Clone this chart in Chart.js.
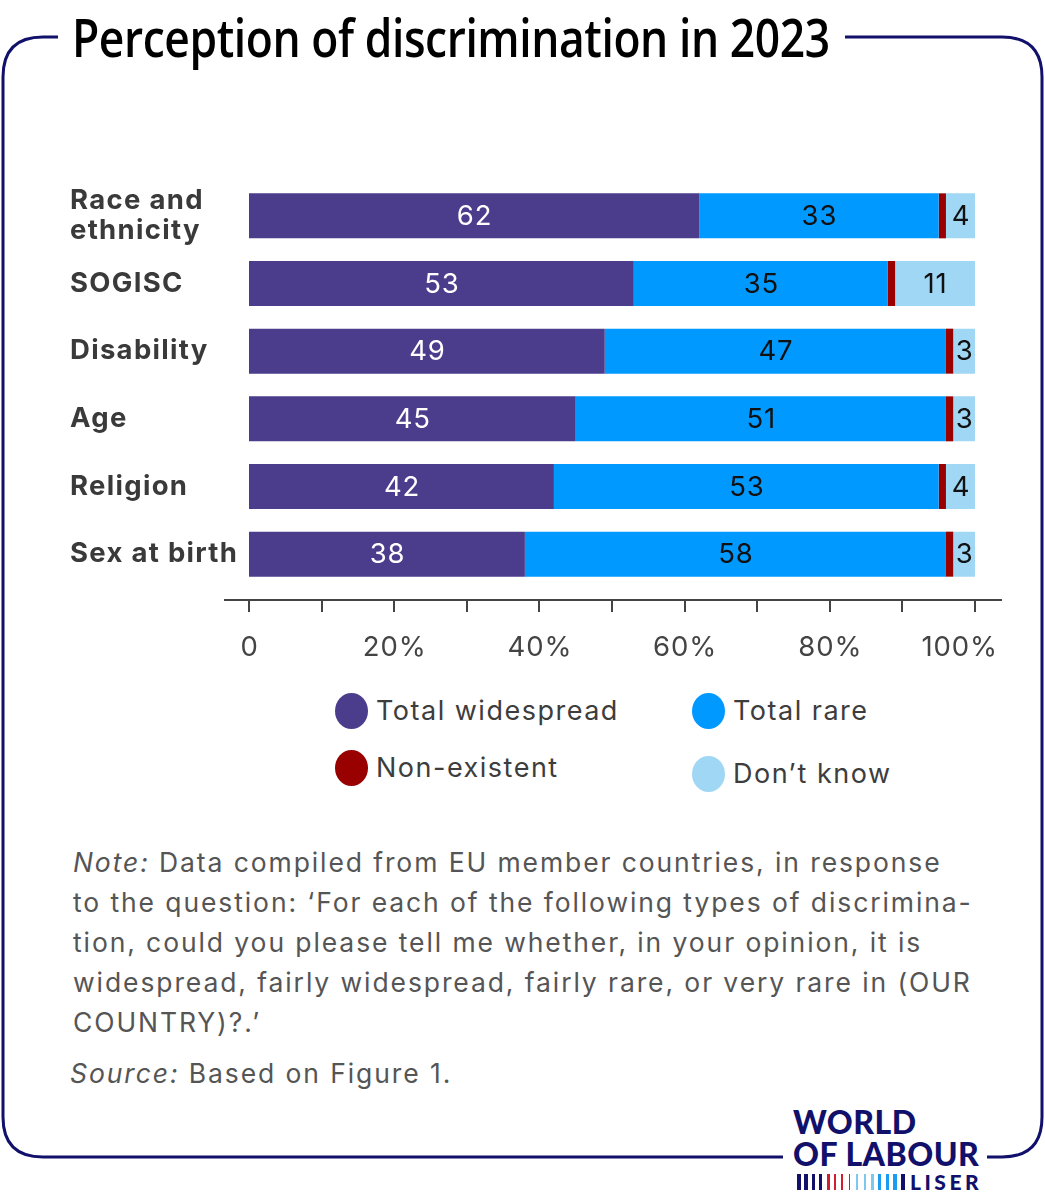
<!DOCTYPE html>
<html>
<head>
<meta charset="utf-8">
<script src="https://cdn.jsdelivr.net/npm/chart.js@4.4.1/dist/chart.umd.min.js"></script>
<style>
  html, body { margin: 0; padding: 0; background: #fff; }
  body { width: 1045px; height: 1197px; position: relative; overflow: hidden; font-family: Inter, "Noto Sans", sans-serif; }
  #frame { position: absolute; left: 0; top: 0; }
  #title { position: absolute; left: 72px; top: 0; height: 74px; line-height: 74px; font-family: "Open Sans", "Noto Sans", sans-serif; font-weight: 600; font-size: 52px; color: #000; white-space: nowrap; transform-origin: left center; letter-spacing: -0.5px; }
  #chartBox { position: absolute; left: 0; top: 0; width: 1045px; height: 680px; }
  .leg { position: absolute; height: 36px; line-height: 36px; font-size: 27px; letter-spacing: 1.5px; color: #3d3d3d; white-space: nowrap; }
  .leg i { position: absolute; left: 0; top: 0; width: 33px; height: 36px; border-radius: 50%; }
  .leg span { position: absolute; left: 41px; top: 0; }
  #note { position: absolute; left: 73px; top: 842px; font-size: 26.5px; line-height: 40px; color: #555; white-space: nowrap; letter-spacing: 1.9px; }
  #source { position: absolute; left: 70px; top: 1053px; font-size: 26.5px; line-height: 40px; color: #555; white-space: nowrap; letter-spacing: 1.9px; }
  #logo { position: absolute; left: 793px; top: 1106px; color: #11116b; font-family: Lato, Roboto, sans-serif; font-weight: 900; }
  #logo .w { font-size: 32px; line-height: 32px; letter-spacing: 0.5px; }
  #logo .bars { position: relative; height: 18px; margin-top: 3px; }
  #logo .bars b { position: absolute; top: 1px; height: 16px; }
  #logo .liser { position: absolute; left: 117px; top: -2px; font-size: 21px; line-height: 21px; letter-spacing: 3.5px; }
</style>
</head>
<body>
<svg id="frame" width="1045" height="1197">
  <path d="M 58 37 L 43 37 Q 3 37 3 77 L 3 1117 Q 3 1157 43 1157 L 783 1157 M 987 1157 L 1002 1157 Q 1042 1157 1042 1117 L 1042 77 Q 1042 37 1002 37 L 845 37"
        fill="none" stroke="#11116b" stroke-width="3"/>
</svg>
<div id="title">Perception of discrimination in 2023</div>
<div id="chartBox"><canvas id="chart"></canvas></div>
<div id="legend"></div>
<div id="note"><i>Note:</i> Data compiled from EU member countries, in response<br>to the question: ‘For each of the following types of discrimina-<br>tion, could you please tell me whether, in your opinion, it is<br>widespread, fairly widespread, fairly rare, or very rare in (OUR<br>COUNTRY)?.’</div>
<div id="source"><i>Source:</i> Based on Figure 1.</div>
<div id="logo">
  <div class="w">WORLD</div>
  <div class="w">OF LABOUR</div>
  <div class="bars" id="logoBars"><span class="liser">LISER</span></div>
</div>
<script>
const categories = [["Race and", "ethnicity"], "SOGISC", "Disability", "Age", "Religion", "Sex at birth"];
const seriesNames = ["Total widespread", "Total rare", "Non-existent", "Don’t know"];
const widespread = [62, 53, 49, 45, 42, 38];
const rare = [33, 35, 47, 51, 53, 58];
const nonExistent = [1, 1, 1, 1, 1, 1];
const dontKnow = [4, 11, 3, 3, 4, 3];
const colors = ["#4b3d8c", "#0099ff", "#990000", "#a0d7f5"];
const labelColors = ["#ffffff", "#111111", null, "#111111"];
const xTicks = [0, 10, 20, 30, 40, 50, 60, 70, 80, 90, 100];
const xTickLabels = ["0", "", "20%", "", "40%", "", "60%", "", "80%", "", "100%"];

// fit the title to its width in the reference
const title = document.getElementById("title");
title.style.transform = "scaleX(" + (758 / title.offsetWidth) + ")";

// the reference text is slightly tracked
const tracking = {
  id: "tracking",
  beforeDraw(chart) { chart.ctx.letterSpacing = "1.3px"; },
};

// value labels inside the bars
const valueLabels = {
  id: "valueLabels",
  afterDatasetsDraw(chart) {
    const ctx = chart.ctx;
    ctx.save();
    ctx.letterSpacing = "0.8px";
    ctx.font = "27.5px Inter, 'Noto Sans', sans-serif";
    ctx.textAlign = "center";
    ctx.textBaseline = "middle";
    chart.data.datasets.forEach((ds, i) => {
      if (!labelColors[i]) return;
      chart.getDatasetMeta(i).data.forEach((bar, j) => {
        const p = bar.getProps(["x", "y", "base"], true);
        ctx.fillStyle = labelColors[i];
        ctx.fillText(String(ds.data[j]), (p.x + p.base) / 2 + 0.5, p.y + 1);
      });
    });
    ctx.restore();
  },
};

// axis line sits a little below the bars; labels every 20%
const xAxisLine = {
  id: "xAxisLine",
  afterDraw(chart) {
    const ctx = chart.ctx;
    const x = chart.scales.x;
    const y0 = chart.chartArea.bottom + 12;
    ctx.save();
    ctx.strokeStyle = "#444";
    ctx.lineWidth = 2;
    ctx.beginPath();
    ctx.moveTo(x.getPixelForValue(0) - 25, y0);
    ctx.lineTo(x.getPixelForValue(100) + 27, y0);
    xTicks.forEach((v) => {
      const px = Math.round(x.getPixelForValue(v));
      ctx.moveTo(px, y0);
      ctx.lineTo(px, y0 + 12);
    });
    ctx.stroke();
    ctx.letterSpacing = "0.9px";
    ctx.font = "27.5px Inter, 'Noto Sans', sans-serif";
    ctx.fillStyle = "#444";
    ctx.textBaseline = "middle";
    xTicks.forEach((v, i) => {
      if (!xTickLabels[i]) return;
      const px = x.getPixelForValue(v);
      // last label is kept inside the axis end, as in the reference
      if (i === xTicks.length - 1) {
        ctx.textAlign = "right";
        ctx.fillText(xTickLabels[i], px + 23, y0 + 48);
      } else {
        ctx.textAlign = "center";
        ctx.fillText(xTickLabels[i], px + 0.5, y0 + 48);
      }
    });
    ctx.restore();
  },
};

const chart = new Chart(document.getElementById("chart"), {
  type: "bar",
  data: {
    labels: categories,
    datasets: [widespread, rare, nonExistent, dontKnow].map((d, i) => ({
      label: seriesNames[i],
      data: d,
      backgroundColor: colors[i],
      borderWidth: 0,
      categoryPercentage: 1,
      barPercentage: 0.665,
    })),
  },
  options: {
    indexAxis: "y",
    responsive: true,
    maintainAspectRatio: false,
    animation: false,
    layout: { padding: { left: 70, right: 70, top: 182, bottom: 0 } },
    plugins: { legend: { display: false }, tooltip: { enabled: false } },
    scales: {
      x: {
        stacked: true,
        min: 0,
        max: 100,
        grid: { display: false, drawTicks: false },
        border: { display: false },
        afterFit: (s) => { s.height = 92; s.paddingLeft = 0; s.paddingRight = 0; },
        afterBuildTicks: (s) => { s.ticks = xTicks.map((v) => ({ value: v })); },
        ticks: { display: false },
      },
      y: {
        stacked: true,
        grid: { display: false, drawTicks: false },
        border: { display: false },
        afterFit: (s) => { s.width = 179; s.paddingTop = 0; s.paddingBottom = 0; },
        ticks: {
          crossAlign: "far",
          padding: 0,
          color: "#3a3a3a",
          font: { family: "Inter", size: 27.5, weight: "bold", lineHeight: 1.1 },
        },
      },
    },
  },
  plugins: [tracking, valueLabels, xAxisLine],
});

// legend built from the chart datasets
const legendPos = [[335, 693], [692, 693], [335, 750], [692, 756]];
const legend = document.getElementById("legend");
chart.data.datasets.forEach((ds, i) => {
  const el = document.createElement("div");
  el.className = "leg";
  el.style.left = legendPos[i][0] + "px";
  el.style.top = legendPos[i][1] + "px";
  el.innerHTML = '<i style="background:' + ds.backgroundColor + '"></i><span>' + ds.label + "</span>";
  legend.appendChild(el);
});

// logo stripes
const stripeColors = ["#11116b", "#11116b", "#11116b", "#11116b", "#d0202e", "#d0202e", "#d0202e", "#d0202e", "#7cc8f2", "#7cc8f2", "#7cc8f2", "#1a9cf0", "#1a9cf0", "#1a9cf0", "#11116b"];
const stripeW = [4, 3.5, 3, 2.5, 3, 2, 1.5, 1, 1.5, 2, 2.5, 3, 3.5, 4, 4];
const bars = document.getElementById("logoBars");
stripeColors.forEach((c, i) => {
  const b = document.createElement("b");
  b.style.left = (4 + i * 7.4) + "px";
  b.style.width = stripeW[i] + "px";
  b.style.background = c;
  bars.appendChild(b);
});
</script>
</body>
</html>
